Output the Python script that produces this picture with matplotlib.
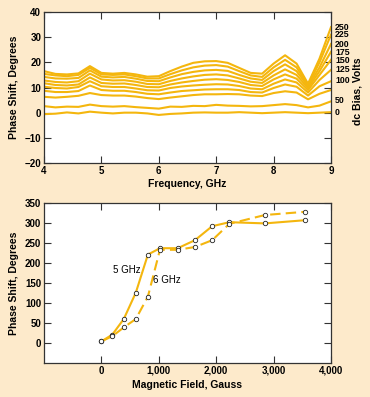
import numpy as np
import matplotlib.pyplot as plt

# --- top panel: phase shift vs frequency for several dc bias voltages
freq = [4.0, 4.2, 4.4, 4.6, 4.8, 5.0, 5.2, 5.4, 5.6, 5.8, 6.0, 6.2, 6.4,
        6.6, 6.8, 7.0, 7.2, 7.4, 7.6, 7.8, 8.0, 8.2, 8.4, 8.6, 8.8, 9.0]

bias_250 = [16.5, 15.4, 15.2, 15.6, 18.5, 15.8, 15.5, 15.8, 15.2, 14.3, 14.5, 16.5, 18.3,
            19.8, 20.4, 20.5, 19.8, 17.8, 15.8, 15.5, 19.5, 22.8, 19.5, 11.5, 21.5, 34.0]
bias_225 = [15.4, 14.8, 14.5, 15.0, 17.8, 15.2, 15.0, 15.2, 14.5, 13.6, 13.6, 15.3, 16.8,
            18.0, 18.7, 18.9, 18.3, 16.5, 14.8, 14.2, 18.0, 21.0, 18.0, 11.0, 20.0, 31.0]
bias_200 = [14.2, 13.6, 13.5, 13.8, 16.8, 14.3, 14.0, 14.2, 13.5, 12.6, 12.5, 14.0, 15.3,
            16.2, 16.8, 17.0, 16.6, 15.0, 13.6, 13.0, 16.5, 19.2, 16.5, 10.5, 18.0, 27.3]
bias_175 = [12.8, 12.2, 12.0, 12.5, 15.5, 13.2, 12.8, 12.9, 12.3, 11.4, 11.3, 12.6, 13.6,
            14.4, 15.0, 15.2, 14.8, 13.6, 12.3, 11.8, 14.8, 17.2, 15.0, 9.8, 16.5, 24.2]
bias_150 = [11.7, 11.0, 10.8, 11.2, 14.0, 11.8, 11.5, 11.6, 11.0, 10.2, 10.1, 11.2, 12.0,
            12.6, 13.1, 13.3, 13.0, 12.2, 11.0, 10.6, 13.2, 15.2, 13.5, 9.0, 15.0, 21.0]
bias_125 = [10.3, 9.8, 9.6, 10.2, 12.5, 10.5, 10.2, 10.2, 9.6, 8.9, 8.8, 9.8, 10.4,
            10.8, 11.1, 11.3, 11.2, 10.6, 9.6, 9.3, 11.5, 13.2, 12.0, 8.0, 13.0, 17.0]
bias_100 = [8.7, 8.2, 8.2, 8.6, 10.8, 9.0, 8.7, 8.7, 8.2, 7.5, 7.3, 8.0, 8.6,
            8.9, 9.2, 9.3, 9.3, 9.0, 8.2, 8.0, 9.8, 11.2, 10.3, 6.8, 10.5, 12.5]
bias_75 = [6.3, 6.0, 6.3, 6.7, 7.8, 7.0, 6.8, 6.8, 6.4, 5.8, 5.4, 6.0, 6.5,
           7.0, 7.3, 7.3, 7.4, 7.3, 6.8, 6.6, 7.8, 8.5, 8.0, 5.3, 7.5, 9.0]
bias_50 = [2.6, 2.1, 2.4, 2.3, 3.2, 2.6, 2.4, 2.6, 2.2, 1.9, 1.6, 2.4, 2.3,
           2.7, 2.6, 3.1, 2.8, 2.7, 2.5, 2.6, 3.0, 3.4, 3.0, 2.1, 2.8, 4.5]
bias_0 = [-0.6, -0.4, 0.1, -0.3, 0.4, 0.0, -0.3, 0.0, 0.0, -0.3, -0.9, -0.5, -0.3,
          0.0, 0.1, 0.0, 0.0, 0.2, 0.0, -0.2, 0.0, 0.2, 0.0, -0.2, 0.0, 0.2]

curves = [bias_250, bias_225, bias_200, bias_175, bias_150,
          bias_125, bias_100, bias_75, bias_50, bias_0]

bias_labels = ['250', '225', '200', '175', '150', '125', '100', '50', '0']
bias_label_y = [34.0, 30.9, 27.2, 24.1, 20.8, 17.1, 12.6, 5.0, 0.1]

# --- bottom panel: phase shift vs magnetic field
field = [0, 190, 390, 600, 810, 1020, 1330, 1630, 1930, 2230, 2850, 3550]
shift_5ghz = [4, 21, 60, 126, 221, 237, 237, 257, 292, 302, 299, 307]
shift_6ghz = [4, 17, 39, 60, 116, 233, 233, 240, 257, 298, 320, 328]

gold = '#f4b60e'
bg = '#fdeacb'

plt.rcParams['font.family'] = ['Liberation Sans', 'DejaVu Sans']
plt.rcParams['font.weight'] = 'bold'
plt.rcParams['font.size'] = 7

fig = plt.figure(figsize=(3.7, 3.97), dpi=100, facecolor=bg)

# top
ax1 = fig.add_axes([44 / 370, 1 - 163 / 397, 287 / 370, 151 / 397])
for c in curves:
    ax1.plot(freq, c, color=gold, lw=1.5, solid_joinstyle='round')
ax1.set_xlim(4, 9)
ax1.set_ylim(-20, 40)
ax1.set_xticks([4, 5, 6, 7, 8, 9])
ax1.set_yticks(range(-20, 41, 10))
ax1.tick_params(direction='in', length=5, width=0.8, top=True, right=True,
                labelsize=7, pad=2, color='#333333')
ax1.set_xlabel('Frequency, GHz', fontsize=7.5, fontweight='bold', labelpad=2)
ax1.set_ylabel('Phase Shift, Degrees', fontsize=7.5, fontweight='bold', labelpad=4)
for lab, yv in zip(bias_labels, bias_label_y):
    ax1.text(9.07, yv, lab, fontsize=6.3, fontweight='bold', va='center', ha='left',
             clip_on=False)
ax1.text(9.47, 8.5, 'dc Bias, Volts', rotation=90, fontsize=7.5, fontweight='bold',
         va='center', ha='center', clip_on=False)

# bottom
ax2 = fig.add_axes([44 / 370, 1 - 363 / 397, 287 / 370, 160 / 397])
ax2.plot(field, shift_5ghz, color=gold, lw=1.5, marker='o', ms=3.2,
         mfc='white', mec='#222222', mew=0.6)
ax2.plot(field, shift_6ghz, color=gold, lw=1.5, ls=(0, (5, 2.5)), marker='o', ms=3.2,
         mfc='white', mec='#222222', mew=0.6)
ax2.set_xlim(-1000, 4000)
ax2.set_ylim(-50, 350)
ax2.set_xticks([0, 1000, 2000, 3000, 4000])
ax2.set_xticklabels(['0', '1,000', '2,000', '3,000', '4,000'])
ax2.set_yticks(range(0, 351, 50))
ax2.tick_params(direction='in', length=5, width=0.8, top=True, right=True,
                labelsize=7, pad=2, color='#333333')
ax2.set_xlabel('Magnetic Field, Gauss', fontsize=7.5, fontweight='bold', labelpad=3)
ax2.set_ylabel('Phase Shift, Degrees', fontsize=7.5, fontweight='bold', labelpad=4)
ax2.text(442, 183, '5 GHz', fontsize=7, fontweight='normal', ha='center', va='center')
ax2.text(1134, 158, '6 GHz', fontsize=7, fontweight='normal', ha='center', va='center')

for ax in (ax1, ax2):
    ax.set_facecolor('white')
    for s in ax.spines.values():
        s.set_linewidth(0.9)
        s.set_color('#333333')

fig.savefig('out.png', dpi=100, facecolor=bg)
